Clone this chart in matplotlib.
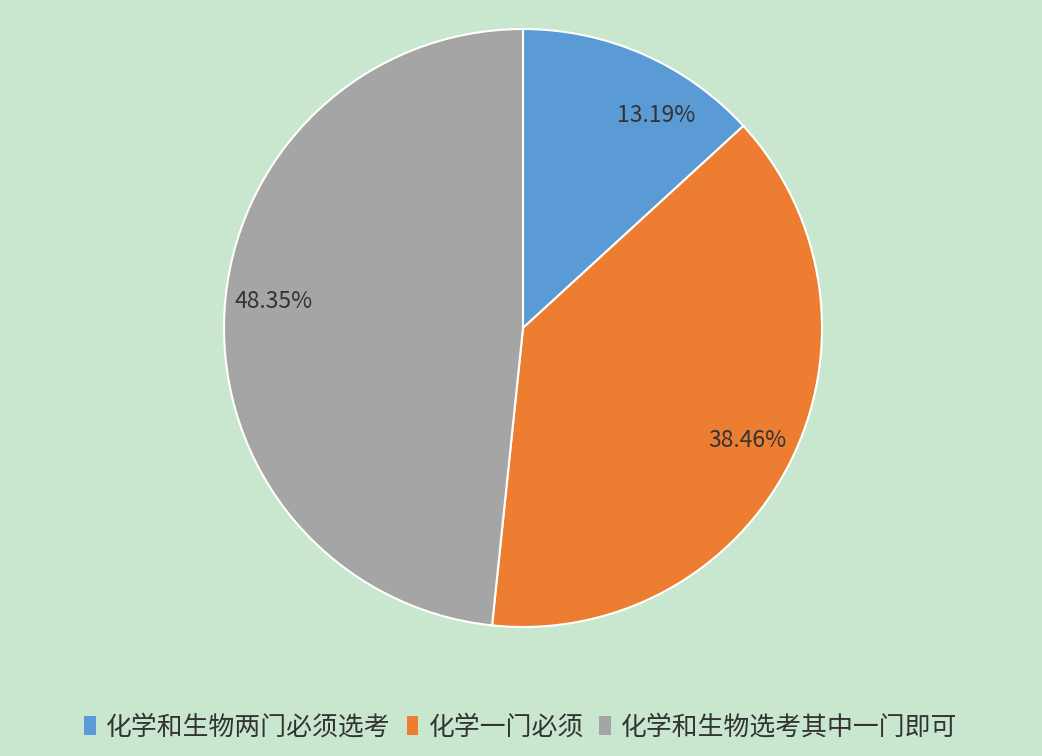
import matplotlib
matplotlib.use("Agg")
import matplotlib.pyplot as plt
import numpy as np

labels = ['化学和生物两门必须选考', '化学一门必须', '化学和生物选考其中一门即可']
values = [13.19, 38.46, 48.35]
colors = ['#5B9BD5', '#ED7D31', '#A5A5A5']
bg = '#C9E6CF'

plt.rcParams['font.family'] = ['Noto Sans CJK SC', 'DejaVu Sans']


def main():
	fig = plt.figure(figsize=(10.42, 7.56), dpi=100, facecolor=bg)
	ax = fig.add_axes([224 / 1042, 129 / 756, 598 / 1042, 598 / 756])
	ax.set_facecolor(bg)

	wedges, texts, autotexts = ax.pie(
		values, colors=colors, startangle=90, counterclock=False,
		autopct=lambda p: '%.2f%%' % p, pctdistance=0.84,
		wedgeprops=dict(edgecolor='white', linewidth=1.5),
		textprops=dict(fontsize=16.5, color='#333333'))
	ax.set_xlim(-1, 1)
	ax.set_ylim(-1, 1)

	# labels sit a bit off the slice middle in the original
	for t, deg in [(autotexts[0], 58), (autotexts[2], 174)]:
		a = np.deg2rad(deg)
		t.set_position((0.84 * np.cos(a), 0.84 * np.sin(a)))

	handles = [plt.Rectangle((0, 0), 1, 1, facecolor=c, edgecolor='none') for c in colors]
	fig.legend(handles, labels, loc='center', bbox_to_anchor=(0.5, 29 / 756),
		ncol=3, frameon=False, labelcolor='#333333',
		handlelength=0.45, handleheight=0.7, handletextpad=0.4,
		columnspacing=0.6, prop=dict(size=18.6))

	fig.savefig('out.png', dpi=100, facecolor=bg)


if __name__ == "__main__":
	main()
